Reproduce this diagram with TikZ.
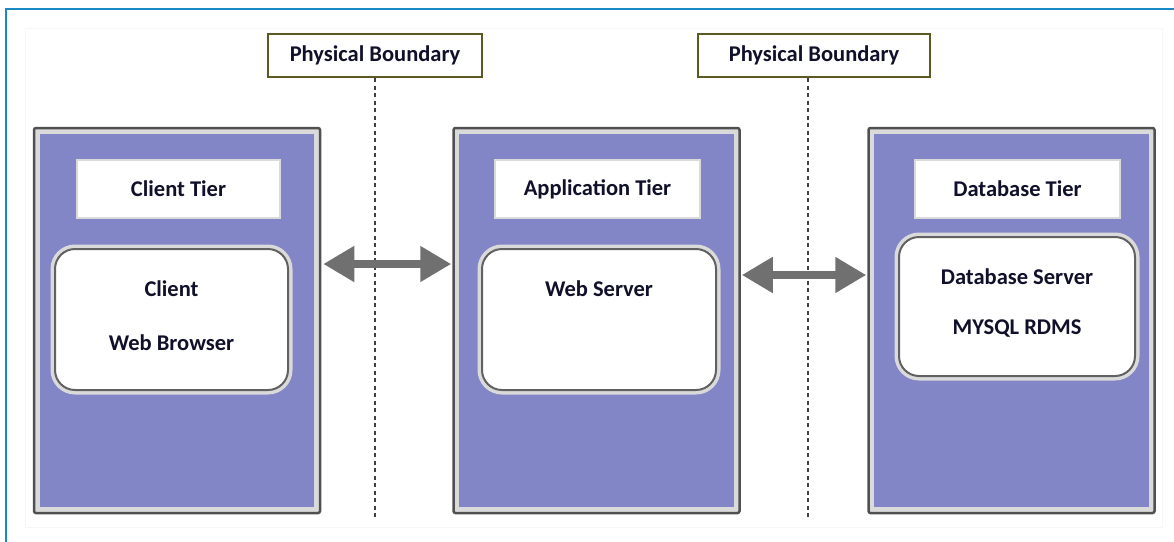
\documentclass[tikz,border=0pt]{standalone}
\usepackage{fontspec}
\setmainfont{Carlito}
\usetikzlibrary{arrows.meta}
\definecolor{frameblue}{HTML}{1A8AC6}
\definecolor{tierpurple}{HTML}{8386C6}
\definecolor{tierborder}{HTML}{505050}
\definecolor{tierband}{HTML}{DADADA}
\definecolor{olive}{HTML}{5A5A22}
\definecolor{arrowgray}{HTML}{707070}
\definecolor{txt}{HTML}{10102A}
\tikzset{
  tierbox/.style={draw=tierborder, line width=2.5pt, fill=tierband, rounded corners=2pt, minimum width=286pt, minimum height=385pt, inner sep=0pt},
  labelbox/.style={draw=tierband, line width=2pt, fill=white, minimum width=203pt, minimum height=58pt, inner sep=0pt},
  roundbox/.style={draw=tierborder!90, line width=2pt, fill=white, rounded corners=20pt, inner sep=0pt},
  halo/.style={draw=tierband, line width=5pt, rounded corners=22pt},
  boundbox/.style={draw=olive, line width=2pt, fill=white, minimum width=214pt, minimum height=43pt, inner sep=0pt},
  lbl/.style={font=\bfseries\fontsize{22.5}{25}\selectfont, text=txt, inner sep=0pt},
  bound/.style={draw=black!75, line width=2pt, dash pattern=on 4pt off 3.5pt},
  bigarrow/.style={draw=arrowgray, line width=8pt, {Triangle[length=31pt,width=34pt]}-{Triangle[length=31pt,width=34pt]}},
}
\begin{document}
\begin{tikzpicture}[x=1pt,y=-1pt]
\useasboundingbox (0,0) rectangle (1174,541);
% outer frame
\draw[frameblue, line width=2.2pt] (6,545) -- (6,9) -- (1180,9);
\draw[black!3, line width=1pt] (25,28) rectangle (1162,527);

% physical boundaries
\node[boundbox] (pb1) at (375,55.5) {};
\node[lbl] (pb1t) at (pb1) {Physical Boundary};
\node[boundbox, minimum width=232pt] (pb2) at (814,55.5) {};
\node[lbl] (pb2t) at (pb2) {Physical Boundary};
\coordinate (d1end) at (375,517);
\coordinate (d2start) at (808,78);
\coordinate (d2end) at (808,517);
\draw[bound] (pb1.south) -- (d1end);
\draw[bound] (d2start) -- (d2end);

% tiers
\foreach \nm/\cx in {client/177, app/596.5, db/1011.5}{
  \node[tierbox] (\nm) at (\cx,320.5) {};
  \fill[tierpurple] ([shift={(7,7)}]\nm.north west) rectangle ([shift={(-7,-7)}]\nm.south east);
}

% tier labels
\node[labelbox] (clientlbl) at (178.5,189) {};
\node[lbl] (clientlblt) at (clientlbl) {Client Tier};
\node[labelbox, minimum width=205pt] (applbl) at (597.5,189) {};
\node[lbl] (applblt) at (applbl) {Application Tier};
\node[labelbox, minimum width=205pt] (dblbl) at (1017.5,189) {};
\node[lbl] (dblblt) at (dblbl) {Database Tier};

% inner rounded boxes
\draw[halo] (53,247) rectangle (290,392);
\node[roundbox, minimum width=233pt, minimum height=141pt] (clientsrv) at (171.5,319.5) {};
\node[lbl] (ct1) at (171.5,289) {Client};
\node[lbl] (ct2) at (171.5,343) {Web Browser};

\draw[halo] (480,247) rectangle (718,392);
\node[roundbox, minimum width=234pt, minimum height=141pt] (websrv) at (599,319.5) {};
\node[lbl] (wt1) at (599,289) {Web Server};

\draw[halo] (897,235) rectangle (1137,378);
\node[roundbox, minimum width=236pt, minimum height=139pt] (dbsrv) at (1017,306.5) {};
\node[lbl] (dt1) at (1017,277) {Database Server};
\node[lbl] (dt2) at (1017,329) {MYSQL RDMS};

% arrows
\coordinate (ya) at (0,264);
\coordinate (yb) at (0,275);
\draw[bigarrow] ([xshift=2pt]client.east |- ya) -- ([xshift=-1pt]app.west |- ya);
\draw[bigarrow] ([xshift=1pt]app.east |- yb) -- ([xshift=-1pt]db.west |- yb);
\end{tikzpicture}
\end{document}
